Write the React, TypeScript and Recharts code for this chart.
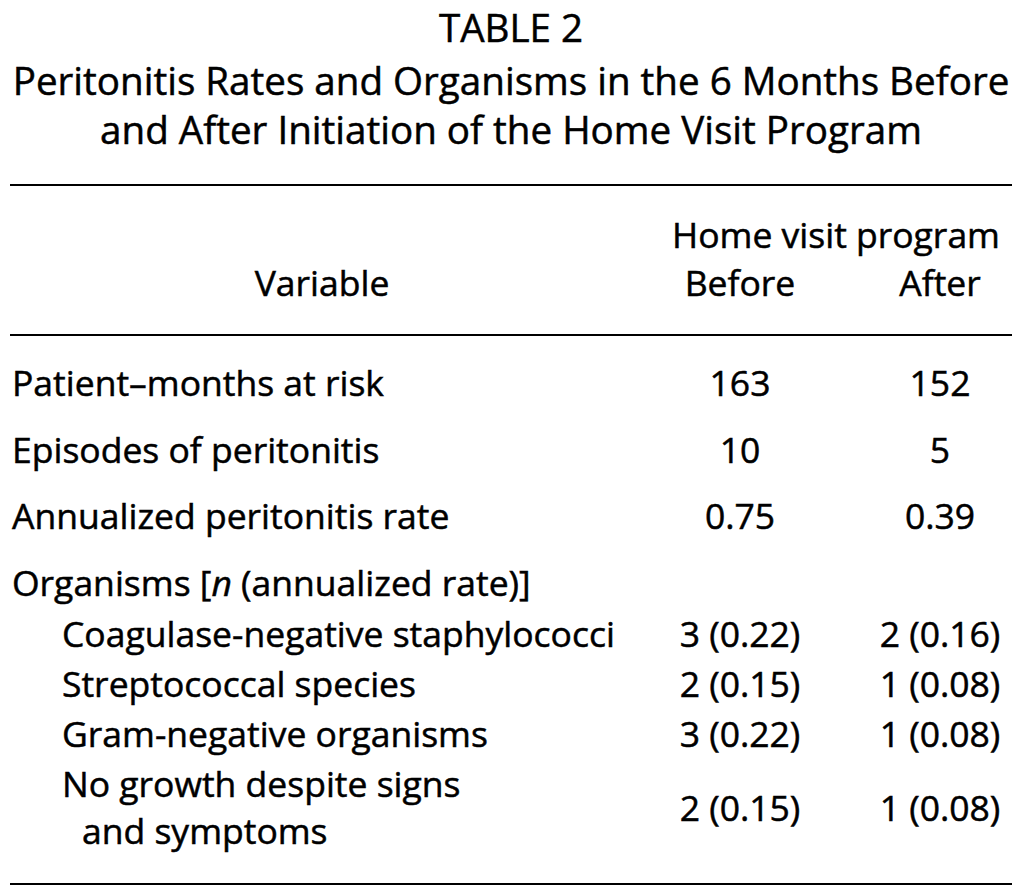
import React from 'react';
import { ScatterChart, Scatter, XAxis, YAxis, ReferenceLine } from 'recharts';

// table content
const TITLE_LINES = [
  'TABLE 2',
  'Peritonitis Rates and Organisms in the 6 Months Before',
  'and After Initiation of the Home Visit Program',
];
const GROUP_HEADER = 'Home visit program';
const COLUMN_HEADERS = ['Variable', 'Before', 'After'];
const ROW_LABELS = [
  'Patient–months at risk',
  'Episodes of peritonitis',
  'Annualized peritonitis rate',
  'Organisms [n (annualized rate)]',
  'Coagulase-negative staphylococci',
  'Streptococcal species',
  'Gram-negative organisms',
  'No growth despite signs',
  'and symptoms',
];
const BEFORE_COUNT = [163, 10, 0.75, null, 3, 2, 3, 2];
const BEFORE_RATE = [null, null, null, null, 0.22, 0.15, 0.22, 0.15];
const AFTER_COUNT = [152, 5, 0.39, null, 2, 1, 1, 1];
const AFTER_RATE = [null, null, null, null, 0.16, 0.08, 0.08, 0.08];

// layout (pixels in chart space)
const W = 1023;
const H = 896;
const FONT = "'Open Sans', 'Noto Sans', sans-serif";
const FS = 35.5;
const TITLE_FS = 38.6;
const TITLE_Y = [42, 95, 144];
const RULE_Y = [185, 335, 884];
const LABEL_Y = [396, 463, 529, 596, 647, 697, 747, 797, 844];
const LABEL_INDENT = [12, 12, 12, 12, 62, 62, 62, 62, 82];
const VALUE_Y = [396, 463, 529, 596, 647, 697, 747, 821];
const COL_X = { before: 740, after: 940, variable: 322, group: 836, center: 511 };

const fmt = (n: number | null, r: number | null) => {
  if (n === null) return '';
  const head = n < 1 ? n.toFixed(2) : String(n);
  return r === null ? head : `${head} (${r.toFixed(2)})`;
};

const titleData = TITLE_LINES.map((t, i) => ({ x: COL_X.center, y: TITLE_Y[i], text: t }));
const headerData = [
  { x: COL_X.group, y: 248, text: GROUP_HEADER },
  { x: COL_X.variable, y: 296, text: COLUMN_HEADERS[0] },
  { x: COL_X.before, y: 296, text: COLUMN_HEADERS[1] },
  { x: COL_X.after, y: 296, text: COLUMN_HEADERS[2] },
];
const labelData = ROW_LABELS.map((t, i) => ({ x: LABEL_INDENT[i], y: LABEL_Y[i], text: t }));
const beforeData = BEFORE_COUNT.map((n, i) => ({ x: COL_X.before, y: VALUE_Y[i], text: fmt(n, BEFORE_RATE[i]) }));
const afterData = AFTER_COUNT.map((n, i) => ({ x: COL_X.after, y: VALUE_Y[i], text: fmt(n, AFTER_RATE[i]) }));

const renderText = (anchor: 'start' | 'middle', size: number) => (props: any) => {
  const { cx, cy, payload } = props;
  const t: string = payload.text;
  if (!t) return <g />;
  // slight stroke to get closer to the heavier print face
  const common = {
    x: cx,
    y: cy,
    textAnchor: anchor,
    fontFamily: FONT,
    fontSize: size,
    fill: '#000',
    stroke: '#000',
    strokeWidth: 0.5,
  };
  if (t.includes('[n ')) {
    const [a, b] = t.split('[n ');
    return (
      <text {...common}>
        {a}[<tspan fontStyle="italic">n</tspan> {b}
      </text>
    );
  }
  return <text {...common}>{t}</text>;
};

export default function App() {
  return (
    <div style={{ position: 'absolute', left: 0, top: 0, width: W, height: H, background: '#fff' }}>
      <ScatterChart width={W} height={H} margin={{ top: 0, right: 0, bottom: 0, left: 0 }}>
        <XAxis type="number" dataKey="x" domain={[0, W]} hide />
        <YAxis type="number" dataKey="y" domain={[0, H]} reversed hide />
        {RULE_Y.map((y) => (
          <ReferenceLine
            key={y}
            segment={[{ x: 10, y }, { x: 1012, y }]}
            stroke="#000"
            strokeWidth={2}
            ifOverflow="visible"
          />
        ))}
        <Scatter data={titleData} shape={renderText('middle', TITLE_FS)} isAnimationActive={false} />
        <Scatter data={headerData} shape={renderText('middle', FS)} isAnimationActive={false} />
        <Scatter data={labelData} shape={renderText('start', FS)} isAnimationActive={false} />
        <Scatter data={beforeData} shape={renderText('middle', FS)} isAnimationActive={false} />
        <Scatter data={afterData} shape={renderText('middle', FS)} isAnimationActive={false} />
      </ScatterChart>
    </div>
  );
}
